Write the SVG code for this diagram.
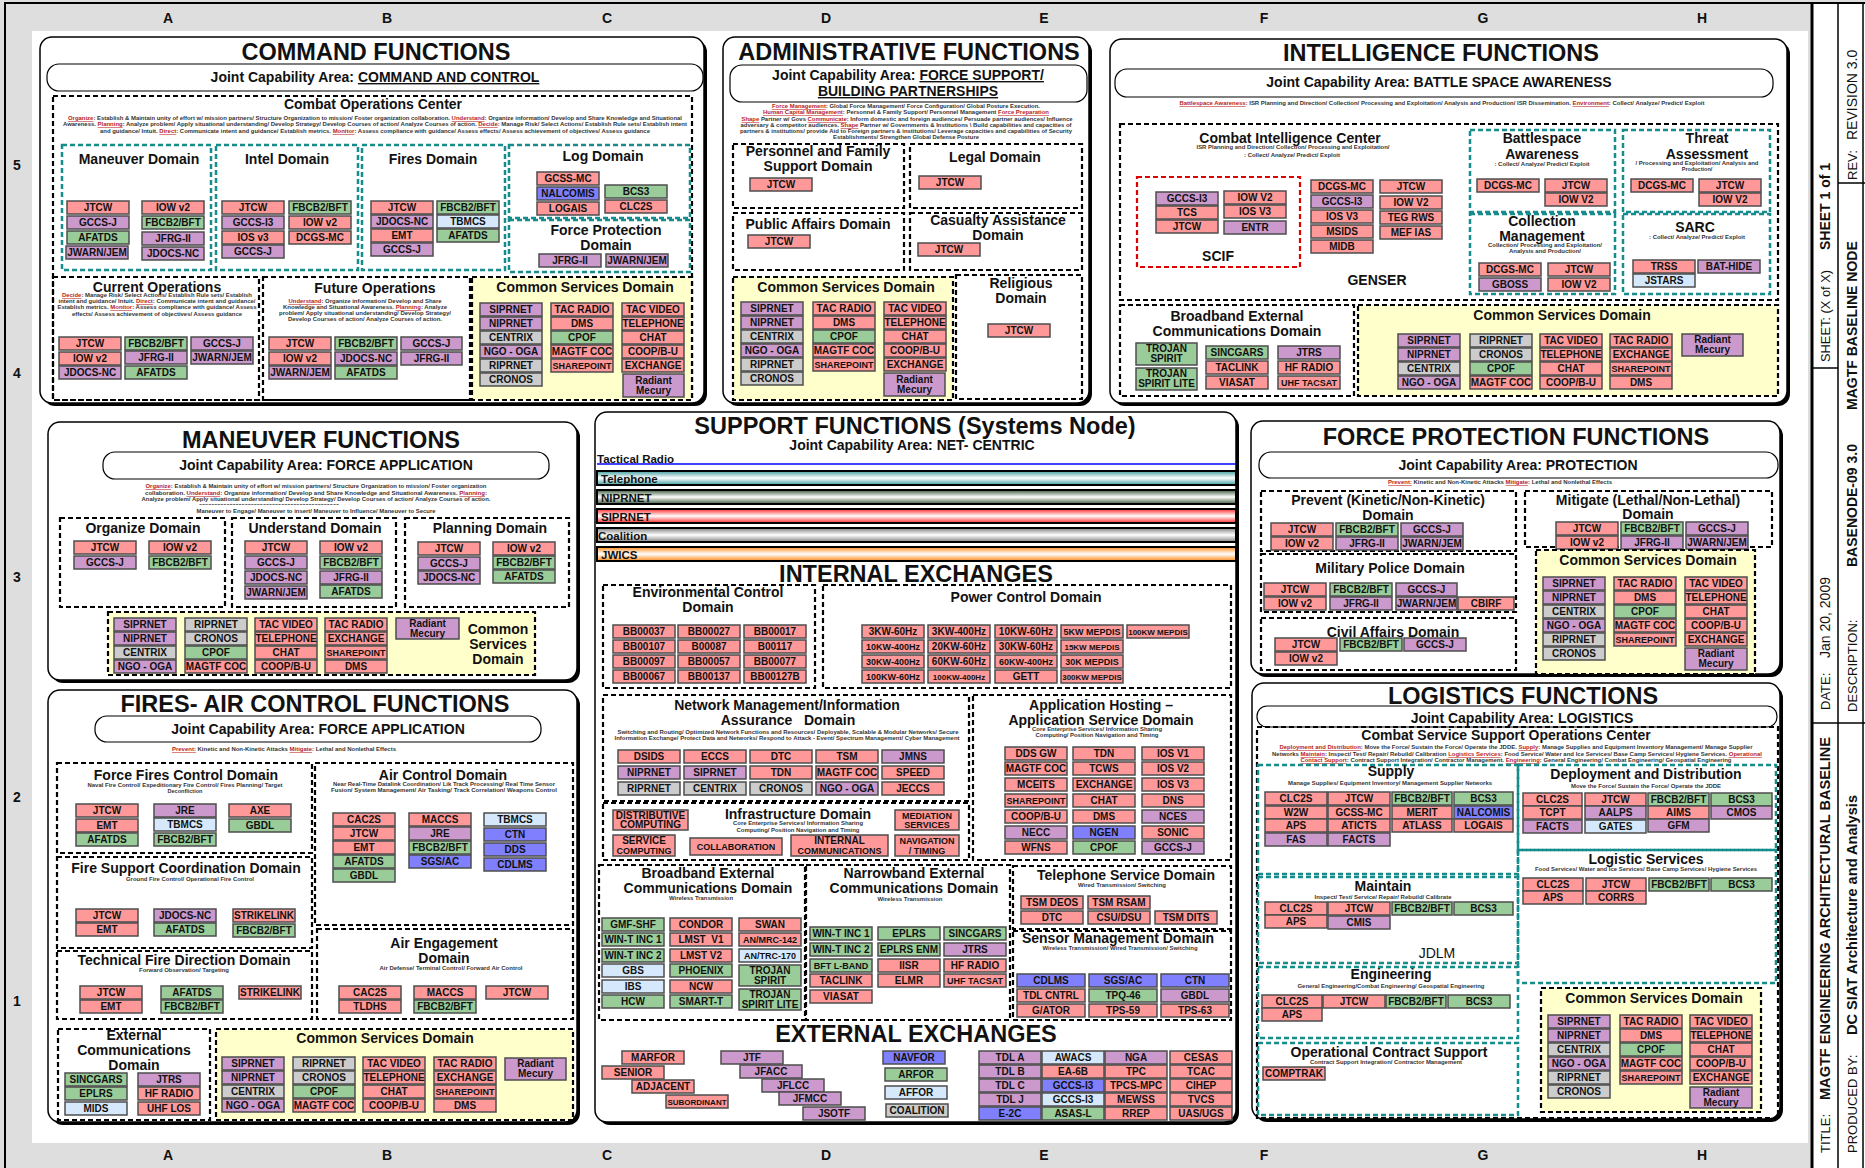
<svg xmlns="http://www.w3.org/2000/svg" width="1865" height="1168" viewBox="0 0 1865 1168">
<defs>
<style>
text{font-family:"Liberation Sans",Arial,Helvetica,sans-serif;font-weight:bold;fill:#111}
.bx rect{stroke:#4d4d4d;stroke-width:1.5}
.bx text{font-size:10px;text-anchor:middle}
.bx text.f9{font-size:9px}
.bx text.f8{font-size:8px}
.r{fill:#ff9999}.p{fill:#cc99cc}.g{fill:#99cc99}.l{fill:#d6e9fc}.k{fill:#cccccc}.n{fill:#8080ff}
.sh{fill:#000}
.fr{fill:#fff;stroke:#000;stroke-width:1.5}
.pl{fill:#fff;stroke:#000;stroke-width:1.2}
.bd{fill:none;stroke:#000;stroke-width:2.2;stroke-dasharray:5 3}
.td{fill:none;stroke:#168c8c;stroke-width:2.5;stroke-dasharray:5 3}
.yd{fill:#ffffcc;stroke:#000;stroke-width:2.2;stroke-dasharray:5 3}
.h1{font-size:23.5px;text-anchor:middle}
.h2{font-size:14px;text-anchor:middle}
.t{font-size:14px;text-anchor:middle}
.s{font-size:5.5px;text-anchor:middle;fill:#333}
.u{fill:#b81c1c;text-decoration:underline}
.ul{text-decoration:underline}
.cl{font-size:14px;text-anchor:middle}
.tb{font-size:14px}
.tn{font-size:13px;font-weight:normal}
.band{stroke:#000;stroke-width:2}
.bl{font-size:11.5px}
</style>
<linearGradient id="gT" x1="0" y1="0" x2="0" y2="1"><stop offset="0" stop-color="#3f9c9c"/><stop offset=".5" stop-color="#fff"/><stop offset="1" stop-color="#3f9c9c"/></linearGradient>
<linearGradient id="gN" x1="0" y1="0" x2="0" y2="1"><stop offset="0" stop-color="#3d5c3d"/><stop offset=".5" stop-color="#fff"/><stop offset="1" stop-color="#3d5c3d"/></linearGradient>
<linearGradient id="gS" x1="0" y1="0" x2="0" y2="1"><stop offset="0" stop-color="#ff2a2a"/><stop offset=".5" stop-color="#fff"/><stop offset="1" stop-color="#ff2a2a"/></linearGradient>
<linearGradient id="gC" x1="0" y1="0" x2="0" y2="1"><stop offset="0" stop-color="#808080"/><stop offset=".5" stop-color="#fff"/><stop offset="1" stop-color="#808080"/></linearGradient>
<linearGradient id="gJ" x1="0" y1="0" x2="0" y2="1"><stop offset="0" stop-color="#ff8a1a"/><stop offset=".5" stop-color="#fff"/><stop offset="1" stop-color="#ff8a1a"/></linearGradient>
</defs>

<g id="page">
<rect width="1865" height="1168" fill="#dedede"/>
<rect x="32" y="31" width="1776" height="1112" fill="#fff"/>
<rect x="1812" y="3" width="53" height="1165" fill="#fff"/>
<path d="M5 1168V3H1865" fill="none" stroke="#000" stroke-width="2"/>
<line x1="1812" y1="3" x2="1812" y2="1168" stroke="#000" stroke-width="3"/>
<line x1="1838" y1="3" x2="1838" y2="1168" stroke="#000" stroke-width="1.5"/>
<line x1="1863" y1="3" x2="1863" y2="1168" stroke="#000" stroke-width="1.5"/>
<line x1="1812" y1="368" x2="1838" y2="368" stroke="#000" stroke-width="1.5"/>
<line x1="1838" y1="183" x2="1865" y2="183" stroke="#000" stroke-width="1.5"/>
<line x1="1812" y1="723" x2="1865" y2="723" stroke="#000" stroke-width="1.5"/>
<text class="cl" x="168" y="23">A</text><text class="cl" x="387" y="23">B</text><text class="cl" x="607" y="23">C</text><text class="cl" x="826" y="23">D</text><text class="cl" x="1044" y="23">E</text><text class="cl" x="1264" y="23">F</text><text class="cl" x="1483" y="23">G</text><text class="cl" x="1702" y="23">H</text>
<text class="cl" x="168" y="1160">A</text><text class="cl" x="387" y="1160">B</text><text class="cl" x="607" y="1160">C</text><text class="cl" x="826" y="1160">D</text><text class="cl" x="1044" y="1160">E</text><text class="cl" x="1264" y="1160">F</text><text class="cl" x="1483" y="1160">G</text><text class="cl" x="1702" y="1160">H</text>
<text class="cl" x="17" y="170">5</text><text class="cl" x="17" y="378">4</text><text class="cl" x="17" y="582">3</text><text class="cl" x="17" y="802">2</text><text class="cl" x="17" y="1006">1</text>
</g>

<g id="title-block">
<text class="tb" transform="translate(1830,250) rotate(-90)">SHEET 1 of 1</text>
<text class="tn" transform="translate(1830,362) rotate(-90)" textLength="92" lengthAdjust="spacingAndGlyphs">SHEET: (X of X)</text>
<text class="tn" transform="translate(1830,710) rotate(-90)">DATE:</text>
<text class="tn" style="font-size:14px" transform="translate(1830,658) rotate(-90)">Jan 20, 2009</text>
<text class="tn" transform="translate(1830,1153) rotate(-90)">TITLE:</text>
<text class="tb" transform="translate(1830,1100) rotate(-90)" textLength="363" lengthAdjust="spacingAndGlyphs">MAGTF ENGINEERING ARCHITECTURAL BASELINE</text>
<text class="tn" transform="translate(1857,180) rotate(-90)">REV:</text>
<text class="tn" style="font-size:14px" transform="translate(1857,140) rotate(-90)">REVISION 3.0</text>
<text class="tb" transform="translate(1857,410) rotate(-90)">MAGTF BASELINE NODE</text>
<text class="tb" transform="translate(1857,567) rotate(-90)">BASENODE-09 3.0</text>
<text class="tn" transform="translate(1857,712) rotate(-90)">DESCRIPTION:</text>
<text class="tn" transform="translate(1857,1153) rotate(-90)">PRODUCED BY:</text>
<text class="tb" transform="translate(1857,1035) rotate(-90)" textLength="240" lengthAdjust="spacingAndGlyphs">DC SIAT Architecture and Analysis</text>
</g>

<!-- ================= COMMAND FUNCTIONS ================= -->
<g id="command-functions">
<rect class="sh" x="43" y="40" width="664" height="366" rx="12"/>
<rect class="fr" x="40" y="37" width="664" height="366" rx="12"/>
<text class="h1" x="376" y="60">COMMAND FUNCTIONS</text>
<rect class="pl" x="47" y="64" width="656" height="27" rx="12"/>
<text class="h2" x="375" y="82">Joint Capability Area: <tspan class="ul">COMMAND AND CONTROL</tspan></text>
</g>
<g id="combat-operations-center">
<rect class="bd" x="53" y="96" width="639" height="304"/>
<text class="t" x="373" y="109">Combat Operations Center</text>
<text class="s" x="375" y="120" textLength="614" lengthAdjust="spacingAndGlyphs"><tspan class="u">Organize</tspan>: Establish &amp; Maintain unity of effort w/ mission partners/ Structure Organization to mission/ Foster organization collaboration. <tspan class="u">Understand</tspan>: Organize information/ Develop and Share Knowledge and Situational</text>
<text class="s" x="375" y="126" textLength="624" lengthAdjust="spacingAndGlyphs">Awareness. <tspan class="u">Planning</tspan>: Analyze problem/ Apply situational understanding/ Develop Strategy/ Develop Courses of action/ Analyze Courses of action. <tspan class="u">Decide</tspan>: Manage Risk/ Select Actions/ Establish Rule sets/ Establish intent</text>
<text class="s" x="375" y="133" textLength="550" lengthAdjust="spacingAndGlyphs">and guidance/ Intuit. <tspan class="u">Direct</tspan>: Communicate intent and guidance/ Establish metrics. <tspan class="u">Monitor</tspan>: Assess compliance with guidance/ Assess effects/ Assess achievement of objectives/ Assess guidance</text>
</g>
<g id="cmd-maneuver-domain">
<rect class="td" x="62" y="145" width="149" height="125"/>
<text class="t" x="139" y="164">Maneuver Domain</text>
<g class="bx">
<rect class="r" x="67" y="201" width="62" height="13"/><text x="98" y="211">JTCW</text>
<rect class="p" x="67" y="216" width="62" height="13"/><text x="98" y="226">GCCS-J</text>
<rect class="g" x="67" y="231" width="62" height="13"/><text x="98" y="241">AFATDS</text>
<rect class="p" x="66" y="246" width="62" height="13"/><text x="97" y="256">JWARN/JEM</text>
<rect class="r" x="142" y="201" width="62" height="13"/><text x="173" y="211">IOW v2</text>
<rect class="g" x="142" y="216" width="62" height="13"/><text x="173" y="226">FBCB2/BFT</text>
<rect class="p" x="142" y="232" width="62" height="13"/><text x="173" y="242">JFRG-II</text>
<rect class="p" x="142" y="247" width="62" height="13"/><text x="173" y="257">JDOCS-NC</text>
</g></g>
<g id="cmd-intel-domain">
<rect class="td" x="216" y="145" width="142" height="125"/>
<text class="t" x="287" y="164">Intel Domain</text>
<g class="bx">
<rect class="r" x="222" y="201" width="62" height="13"/><text x="253" y="211">JTCW</text>
<rect class="p" x="222" y="216" width="62" height="13"/><text x="253" y="226">GCCS-I3</text>
<rect class="r" x="222" y="231" width="62" height="13"/><text x="253" y="241">IOS v3</text>
<rect class="p" x="222" y="245" width="62" height="13"/><text x="253" y="255">GCCS-J</text>
<rect class="g" x="289" y="201" width="62" height="13"/><text x="320" y="211">FBCB2/BFT</text>
<rect class="r" x="289" y="216" width="62" height="13"/><text x="320" y="226">IOW v2</text>
<rect class="r" x="289" y="231" width="62" height="13"/><text x="320" y="241">DCGS-MC</text>
</g></g>
<g id="cmd-fires-domain">
<rect class="td" x="362" y="145" width="143" height="125"/>
<text class="t" x="433" y="164">Fires Domain</text>
<g class="bx">
<rect class="r" x="371" y="201" width="62" height="13"/><text x="402" y="211">JTCW</text>
<rect class="p" x="371" y="215" width="62" height="13"/><text x="402" y="225">JDOCS-NC</text>
<rect class="r" x="371" y="229" width="62" height="13"/><text x="402" y="239">EMT</text>
<rect class="p" x="371" y="243" width="62" height="13"/><text x="402" y="253">GCCS-J</text>
<rect class="g" x="437" y="201" width="62" height="13"/><text x="468" y="211">FBCB2/BFT</text>
<rect class="l" x="437" y="215" width="62" height="13"/><text x="468" y="225">TBMCS</text>
<rect class="g" x="437" y="229" width="62" height="13"/><text x="468" y="239">AFATDS</text>
</g></g>
<g id="cmd-log-domain">
<rect class="td" x="509" y="145" width="181" height="73"/>
<text class="t" x="603" y="161">Log Domain</text>
<g class="bx">
<rect class="r" x="537" y="172" width="62" height="13"/><text x="568" y="182">GCSS-MC</text>
<rect class="n" x="537" y="187" width="62" height="13"/><text x="568" y="197">NALCOMIS</text>
<rect class="r" x="537" y="202" width="62" height="13"/><text x="568" y="212">LOGAIS</text>
<rect class="g" x="605" y="185" width="62" height="13"/><text x="636" y="195">BCS3</text>
<rect class="r" x="605" y="200" width="62" height="13"/><text x="636" y="210">CLC2S</text>
</g></g>
<g id="cmd-force-protection-domain">
<rect class="td" x="509" y="220" width="181" height="52"/>
<text class="t" x="606" y="235">Force Protection</text>
<text class="t" x="606" y="250">Domain</text>
<g class="bx">
<rect class="p" x="539" y="254" width="62" height="13"/><text x="570" y="264">JFRG-II</text>
<rect class="p" x="606" y="254" width="62" height="13"/><text x="637" y="264">JWARN/JEM</text>
</g></g>
<g id="cmd-current-operations">
<rect class="bd" x="53" y="277" width="206" height="123"/>
<text class="t" x="157" y="292">Current Operations</text>
<text class="s" x="157" y="297" textLength="190" lengthAdjust="spacingAndGlyphs"><tspan class="u">Decide</tspan>: Manage Risk/ Select Actions/ Establish Rule sets/ Establish</text>
<text class="s" x="157" y="303" textLength="197" lengthAdjust="spacingAndGlyphs">intent and guidance/ Intuit. <tspan class="u">Direct</tspan>: Communicate intent and guidance/</text>
<text class="s" x="157" y="309" textLength="199" lengthAdjust="spacingAndGlyphs">Establish metrics. <tspan class="u">Monitor</tspan>: Assess compliance with guidance/ Assess</text>
<text class="s" x="157" y="316" textLength="170" lengthAdjust="spacingAndGlyphs">effects/ Assess achievement of objectives/ Assess guidance</text>
<g class="bx">
<rect class="r" x="59" y="337" width="62" height="13"/><text x="90" y="347">JTCW</text>
<rect class="r" x="59" y="352" width="62" height="13"/><text x="90" y="362">IOW v2</text>
<rect class="p" x="59" y="366" width="62" height="13"/><text x="90" y="376">JDOCS-NC</text>
<rect class="g" x="125" y="337" width="62" height="13"/><text x="156" y="347">FBCB2/BFT</text>
<rect class="p" x="125" y="351" width="62" height="13"/><text x="156" y="361">JFRG-II</text>
<rect class="g" x="125" y="366" width="62" height="13"/><text x="156" y="376">AFATDS</text>
<rect class="p" x="191" y="337" width="62" height="13"/><text x="222" y="347">GCCS-J</text>
<rect class="p" x="191" y="351" width="62" height="13"/><text x="222" y="361">JWARN/JEM</text>
</g></g>
<g id="cmd-future-operations">
<rect class="bd" x="263" y="277" width="207" height="123"/>
<text class="t" x="375" y="293">Future Operations</text>
<text class="s" x="365" y="303" textLength="153" lengthAdjust="spacingAndGlyphs"><tspan class="u">Understand</tspan>: Organize information/ Develop and Share</text>
<text class="s" x="365" y="309" textLength="164" lengthAdjust="spacingAndGlyphs">Knowledge and Situational Awareness. <tspan class="u">Planning</tspan>: Analyze</text>
<text class="s" x="365" y="315" textLength="172" lengthAdjust="spacingAndGlyphs">problem/ Apply situational understanding/ Develop Strategy/</text>
<text class="s" x="365" y="321" textLength="154" lengthAdjust="spacingAndGlyphs">Develop Courses of action/ Analyze Courses of action.</text>
<g class="bx">
<rect class="r" x="269" y="337" width="62" height="13"/><text x="300" y="347">JTCW</text>
<rect class="r" x="269" y="352" width="62" height="13"/><text x="300" y="362">IOW v2</text>
<rect class="p" x="269" y="366" width="62" height="13"/><text x="300" y="376">JWARN/JEM</text>
<rect class="g" x="335" y="337" width="62" height="13"/><text x="366" y="347">FBCB2/BFT</text>
<rect class="p" x="335" y="352" width="62" height="13"/><text x="366" y="362">JDOCS-NC</text>
<rect class="g" x="335" y="366" width="62" height="13"/><text x="366" y="376">AFATDS</text>
<rect class="p" x="401" y="337" width="61" height="13"/><text x="431.5" y="347">GCCS-J</text>
<rect class="p" x="401" y="352" width="61" height="13"/><text x="431.5" y="362">JFRG-II</text>
</g></g>
<g id="cmd-common-services">
<rect class="yd" x="472" y="277" width="220" height="123"/>
<text class="t" x="585" y="292">Common Services Domain</text>
<g class="bx">
<rect class="p" x="480" y="303" width="62" height="13"/><text x="511" y="313">SIPRNET</text>
<rect class="p" x="480" y="317" width="62" height="13"/><text x="511" y="327">NIPRNET</text>
<rect class="k" x="480" y="331" width="62" height="13"/><text x="511" y="341">CENTRIX</text>
<rect class="p" x="480" y="345" width="62" height="13"/><text x="511" y="355">NGO - OGA</text>
<rect class="k" x="480" y="359" width="62" height="13"/><text x="511" y="369">RIPRNET</text>
<rect class="k" x="480" y="373" width="62" height="13"/><text x="511" y="383">CRONOS</text>
<rect class="r" x="551" y="303" width="62" height="13"/><text x="582" y="313">TAC RADIO</text>
<rect class="r" x="551" y="317" width="62" height="13"/><text x="582" y="327">DMS</text>
<rect class="g" x="551" y="331" width="62" height="13"/><text x="582" y="341">CPOF</text>
<rect class="r" x="551" y="345" width="62" height="13"/><text x="582" y="355">MAGTF COC</text>
<rect class="r" x="551" y="359" width="62" height="13"/><text class="f9" x="582" y="369">SHAREPOINT</text>
<rect class="r" x="622" y="303" width="62" height="13"/><text x="653" y="313">TAC VIDEO</text>
<rect class="r" x="622" y="317" width="62" height="13"/><text x="653" y="327">TELEPHONE</text>
<rect class="r" x="622" y="331" width="62" height="13"/><text x="653" y="341">CHAT</text>
<rect class="r" x="622" y="345" width="62" height="13"/><text x="653" y="355">COOP/B-U</text>
<rect class="r" x="622" y="359" width="62" height="13"/><text x="653" y="369">EXCHANGE</text>
<rect class="p" x="623" y="374" width="61" height="23"/><text x="653.5" y="384">Radiant</text><text x="653.5" y="394">Mecury</text>
</g></g>

<!-- ================= ADMINISTRATIVE ================= -->
<g id="administrative-functions">
<rect class="sh" x="726" y="40" width="366" height="366" rx="12"/>
<rect class="fr" x="723" y="37" width="366" height="366" rx="12"/>
<text class="h1" x="909" y="60">ADMINISTRATIVE FUNCTIONS</text>
<rect class="pl" x="730" y="65" width="357" height="37" rx="12"/>
<text class="h2" x="908" y="80">Joint Capability Area: <tspan class="ul">FORCE SUPPORT/</tspan></text>
<text class="h2" x="908" y="96"><tspan class="ul">BUILDING PARTNERSHIPS</tspan></text>
<text class="s" x="906" y="108" textLength="268" lengthAdjust="spacingAndGlyphs"><tspan class="u">Force Management</tspan>: Global Force Management/ Force Configuration/ Global Posture Execution.</text>
<text class="s" x="906" y="114" textLength="286" lengthAdjust="spacingAndGlyphs"><tspan class="u">Human Capital Management</tspan>: Personnel &amp; Family Support/ Personnel Management  <tspan class="u">Force Preparation</tspan></text>
<text class="s" x="907" y="121" textLength="331" lengthAdjust="spacingAndGlyphs"><tspan class="u">Shape</tspan> Partner w/ Govs <tspan class="u">Communicate</tspan>: Inform domestic and foreign audiences/ Persuade partner audiences/ Influence</text>
<text class="s" x="906" y="127" textLength="331" lengthAdjust="spacingAndGlyphs">adversary &amp; competitor audiences. <tspan class="u">Shape</tspan> Partner w/ Governments &amp; Institutions \ Build capabilities and capacities of</text>
<text class="s" x="906" y="133" textLength="332" lengthAdjust="spacingAndGlyphs">partners &amp; institutions/ provide Aid to Foreign partners &amp; institutions/ Leverage capacities and capabilities of Security</text>
<text class="s" x="906" y="139" textLength="146" lengthAdjust="spacingAndGlyphs">Establishments/ Strengthen Global Defense Posture</text>
</g>
<g id="adm-personnel-family">
<rect class="bd" x="733" y="144" width="171" height="64"/>
<text class="t" x="818" y="156">Personnel and Family</text>
<text class="t" x="818" y="171">Support Domain</text>
<g class="bx"><rect class="r" x="750" y="178" width="62" height="13"/><text x="781" y="188">JTCW</text></g>
</g>
<g id="adm-legal">
<rect class="bd" x="910" y="144" width="172" height="64"/>
<text class="t" x="995" y="162">Legal Domain</text>
<g class="bx"><rect class="r" x="919" y="176" width="62" height="13"/><text x="950" y="186">JTCW</text></g>
</g>
<g id="adm-public-affairs">
<rect class="bd" x="733" y="213" width="171" height="57"/>
<text class="t" x="818" y="229">Public Affairs Domain</text>
<g class="bx"><rect class="r" x="748" y="235" width="62" height="13"/><text x="779" y="245">JTCW</text></g>
</g>
<g id="adm-casualty">
<rect class="bd" x="910" y="213" width="172" height="57"/>
<text class="t" x="998" y="225">Casualty Assistance</text>
<text class="t" x="998" y="240">Domain</text>
<g class="bx"><rect class="r" x="918" y="243" width="62" height="13"/><text x="949" y="253">JTCW</text></g>
</g>
<g id="adm-common-services">
<rect class="yd" x="733" y="277" width="220" height="123"/>
<text class="t" x="846" y="292">Common Services Domain</text>
<g class="bx">
<rect class="p" x="741" y="302" width="62" height="13"/><text x="772" y="312">SIPRNET</text>
<rect class="p" x="741" y="316" width="62" height="13"/><text x="772" y="326">NIPRNET</text>
<rect class="k" x="741" y="330" width="62" height="13"/><text x="772" y="340">CENTRIX</text>
<rect class="p" x="741" y="344" width="62" height="13"/><text x="772" y="354">NGO - OGA</text>
<rect class="k" x="741" y="358" width="62" height="13"/><text x="772" y="368">RIPRNET</text>
<rect class="k" x="741" y="372" width="62" height="13"/><text x="772" y="382">CRONOS</text>
<rect class="r" x="813" y="302" width="62" height="13"/><text x="844" y="312">TAC RADIO</text>
<rect class="r" x="813" y="316" width="62" height="13"/><text x="844" y="326">DMS</text>
<rect class="g" x="813" y="330" width="62" height="13"/><text x="844" y="340">CPOF</text>
<rect class="r" x="813" y="344" width="62" height="13"/><text x="844" y="354">MAGTF COC</text>
<rect class="r" x="813" y="358" width="62" height="13"/><text class="f9" x="844" y="368">SHAREPOINT</text>
<rect class="r" x="884" y="302" width="62" height="13"/><text x="915" y="312">TAC VIDEO</text>
<rect class="r" x="884" y="316" width="62" height="13"/><text x="915" y="326">TELEPHONE</text>
<rect class="r" x="884" y="330" width="62" height="13"/><text x="915" y="340">CHAT</text>
<rect class="r" x="884" y="344" width="62" height="13"/><text x="915" y="354">COOP/B-U</text>
<rect class="r" x="884" y="358" width="62" height="13"/><text x="915" y="368">EXCHANGE</text>
<rect class="p" x="884" y="373" width="61" height="23"/><text x="914.5" y="383">Radiant</text><text x="914.5" y="393">Mecury</text>
</g></g>
<g id="adm-religious">
<rect class="bd" x="956" y="275" width="126" height="124"/>
<text class="t" x="1021" y="288">Religious</text>
<text class="t" x="1021" y="303">Domain</text>
<g class="bx"><rect class="r" x="988" y="324" width="62" height="13"/><text x="1019" y="334">JTCW</text></g>
</g>

<!-- ================= INTELLIGENCE ================= -->
<g id="intelligence-functions">
<rect class="sh" x="1113" y="42" width="677" height="364" rx="12"/>
<rect class="fr" x="1110" y="39" width="677" height="364" rx="12"/>
<text class="h1" x="1441" y="61">INTELLIGENCE FUNCTIONS</text>
<rect class="pl" x="1115" y="69" width="658" height="28" rx="12"/>
<text class="h2" x="1439" y="87">Joint Capability Area: BATTLE SPACE AWARENESS</text>
<text class="s" x="1442" y="105" textLength="525" lengthAdjust="spacingAndGlyphs"><tspan class="u">Battlespace Awareness</tspan>:  ISR Planning and Direction/ Collection/ Processing and Exploitation/ Analysis and Production/ ISR Dissemination. <tspan class="u">Environment</tspan>: Collect/ Analyze/ Predict/ Exploit</text>
</g>
<g id="int-combat-intelligence-center">
<rect class="bd" x="1120" y="124" width="658" height="176"/>
<text class="t" x="1290" y="143">Combat Intelligence Center</text>
<text class="s" x="1293" y="149" textLength="193" lengthAdjust="spacingAndGlyphs">ISR Planning and Direction/ Collection/ Processing and Exploitation/</text>
<text class="s" x="1292" y="157" textLength="96" lengthAdjust="spacingAndGlyphs">: Collect/ Analyze/ Predict/ Exploit</text>
<text class="t" x="1377" y="285">GENSER</text>
<g class="bx">
<rect class="r" x="1311" y="180" width="62" height="13"/><text x="1342" y="190">DCGS-MC</text>
<rect class="p" x="1311" y="195" width="62" height="13"/><text x="1342" y="205">GCCS-I3</text>
<rect class="r" x="1311" y="210" width="62" height="13"/><text x="1342" y="220">IOS V3</text>
<rect class="r" x="1311" y="225" width="62" height="13"/><text x="1342" y="235">MSIDS</text>
<rect class="r" x="1311" y="240" width="62" height="13"/><text x="1342" y="250">MIDB</text>
<rect class="r" x="1380" y="180" width="62" height="13"/><text x="1411" y="190">JTCW</text>
<rect class="r" x="1380" y="196" width="62" height="13"/><text x="1411" y="206">IOW V2</text>
<rect class="r" x="1380" y="211" width="62" height="13"/><text x="1411" y="221">TEG RWS</text>
<rect class="r" x="1380" y="226" width="62" height="13"/><text x="1411" y="236">MEF IAS</text>
</g></g>
<g id="int-scif">
<rect x="1137" y="177" width="163" height="90" fill="none" stroke="#e00000" stroke-width="2.2" stroke-dasharray="5 3"/>
<text class="t" x="1218" y="261">SCIF</text>
<g class="bx">
<rect class="p" x="1156" y="192" width="62" height="13"/><text x="1187" y="202">GCCS-I3</text>
<rect class="r" x="1156" y="206" width="62" height="13"/><text x="1187" y="216">TCS</text>
<rect class="r" x="1156" y="220" width="62" height="13"/><text x="1187" y="230">JTCW</text>
<rect class="r" x="1224" y="191" width="62" height="13"/><text x="1255" y="201">IOW V2</text>
<rect class="r" x="1224" y="205" width="62" height="13"/><text x="1255" y="215">IOS V3</text>
<rect class="p" x="1224" y="221" width="62" height="13"/><text x="1255" y="231">ENTR</text>
</g></g>
<g id="int-battlespace-awareness">
<rect class="td" x="1470" y="130" width="145" height="82"/>
<text class="t" x="1542" y="143">Battlespace</text>
<text class="t" x="1542" y="159">Awareness</text>
<text class="s" x="1542" y="166" textLength="95" lengthAdjust="spacingAndGlyphs">: Collect/ Analyze/ Predict/ Exploit</text>
<g class="bx">
<rect class="r" x="1477" y="179" width="62" height="13"/><text x="1508" y="189">DCGS-MC</text>
<rect class="r" x="1545" y="179" width="62" height="13"/><text x="1576" y="189">JTCW</text>
<rect class="r" x="1545" y="193" width="62" height="13"/><text x="1576" y="203">IOW V2</text>
</g></g>
<g id="int-threat-assessment">
<rect class="td" x="1623" y="130" width="147" height="82"/>
<text class="t" x="1707" y="143">Threat</text>
<text class="t" x="1707" y="159">Assessment</text>
<text class="s" x="1697" y="165" textLength="123" lengthAdjust="spacingAndGlyphs">/ Processing and Exploitation/ Analysis and</text>
<text class="s" x="1697" y="171">Production/</text>
<g class="bx">
<rect class="r" x="1631" y="179" width="62" height="13"/><text x="1662" y="189">DCGS-MC</text>
<rect class="r" x="1699" y="179" width="62" height="13"/><text x="1730" y="189">JTCW</text>
<rect class="r" x="1699" y="193" width="62" height="13"/><text x="1730" y="203">IOW V2</text>
</g></g>
<g id="int-collection-management">
<rect class="td" x="1470" y="214" width="145" height="80"/>
<text class="t" x="1542" y="226">Collection</text>
<text class="t" x="1542" y="241">Management</text>
<text class="s" x="1545" y="247" textLength="114" lengthAdjust="spacingAndGlyphs">Collection/ Processing and Exploitation/</text>
<text class="s" x="1545" y="253" textLength="72" lengthAdjust="spacingAndGlyphs">Analysis and Production/</text>
<g class="bx">
<rect class="r" x="1479" y="263" width="62" height="13"/><text x="1510" y="273">DCGS-MC</text>
<rect class="p" x="1479" y="278" width="62" height="13"/><text x="1510" y="288">GBOSS</text>
<rect class="r" x="1548" y="263" width="62" height="13"/><text x="1579" y="273">JTCW</text>
<rect class="r" x="1548" y="278" width="62" height="13"/><text x="1579" y="288">IOW V2</text>
</g></g>
<g id="int-sarc">
<rect class="td" x="1623" y="214" width="147" height="80"/>
<text class="t" x="1695" y="232">SARC</text>
<text class="s" x="1697" y="239" textLength="96" lengthAdjust="spacingAndGlyphs">: Collect/ Analyze/ Predict/ Exploit</text>
<g class="bx">
<rect class="r" x="1633" y="260" width="62" height="13"/><text x="1664" y="270">TRSS</text>
<rect class="l" x="1633" y="274" width="62" height="13"/><text x="1664" y="284">JSTARS</text>
<rect class="p" x="1698" y="260" width="62" height="13"/><text x="1729" y="270">BAT-HIDE</text>
</g></g>
<g id="int-broadband-external">
<rect class="bd" x="1120" y="305" width="234" height="91"/>
<text class="t" x="1237" y="321">Broadband External</text>
<text class="t" x="1237" y="336">Communications Domain</text>
<g class="bx">
<rect class="g" x="1136" y="343" width="61" height="22"/><text x="1166.5" y="352">TROJAN</text><text x="1166.5" y="362">SPIRIT</text>
<rect class="g" x="1136" y="368" width="61" height="22"/><text x="1166.5" y="377">TROJAN</text><text x="1166.5" y="387">SPIRIT LITE</text>
<rect class="g" x="1206" y="346" width="62" height="13"/><text x="1237" y="356">SINCGARS</text>
<rect class="r" x="1206" y="361" width="62" height="13"/><text x="1237" y="371">TACLINK</text>
<rect class="r" x="1206" y="376" width="62" height="13"/><text x="1237" y="386">VIASAT</text>
<rect class="p" x="1278" y="346" width="62" height="13"/><text x="1309" y="356">JTRS</text>
<rect class="r" x="1278" y="361" width="62" height="13"/><text x="1309" y="371">HF RADIO</text>
<rect class="r" x="1278" y="376" width="62" height="13"/><text class="f9" x="1309" y="386">UHF TACSAT</text>
</g></g>
<g id="int-common-services">
<rect class="yd" x="1358" y="305" width="420" height="91"/>
<text class="t" x="1562" y="320">Common Services Domain</text>
<g class="bx">
<rect class="p" x="1398" y="334" width="62" height="13"/><text x="1429" y="344">SIPRNET</text>
<rect class="p" x="1398" y="348" width="62" height="13"/><text x="1429" y="358">NIPRNET</text>
<rect class="k" x="1398" y="362" width="62" height="13"/><text x="1429" y="372">CENTRIX</text>
<rect class="p" x="1398" y="376" width="62" height="13"/><text x="1429" y="386">NGO - OGA</text>
<rect class="k" x="1470" y="334" width="62" height="13"/><text x="1501" y="344">RIPRNET</text>
<rect class="k" x="1470" y="348" width="62" height="13"/><text x="1501" y="358">CRONOS</text>
<rect class="g" x="1470" y="362" width="62" height="13"/><text x="1501" y="372">CPOF</text>
<rect class="r" x="1470" y="376" width="62" height="13"/><text x="1501" y="386">MAGTF COC</text>
<rect class="r" x="1540" y="334" width="62" height="13"/><text x="1571" y="344">TAC VIDEO</text>
<rect class="r" x="1540" y="348" width="62" height="13"/><text x="1571" y="358">TELEPHONE</text>
<rect class="r" x="1540" y="362" width="62" height="13"/><text x="1571" y="372">CHAT</text>
<rect class="r" x="1540" y="376" width="62" height="13"/><text x="1571" y="386">COOP/B-U</text>
<rect class="r" x="1610" y="334" width="62" height="13"/><text x="1641" y="344">TAC RADIO</text>
<rect class="r" x="1610" y="348" width="62" height="13"/><text x="1641" y="358">EXCHANGE</text>
<rect class="r" x="1610" y="362" width="62" height="13"/><text class="f9" x="1641" y="372">SHAREPOINT</text>
<rect class="r" x="1610" y="376" width="62" height="13"/><text x="1641" y="386">DMS</text>
<rect class="p" x="1682" y="334" width="61" height="22"/><text x="1712.5" y="343">Radiant</text><text x="1712.5" y="353">Mecury</text>
</g></g>

<!-- ================= MANEUVER ================= -->
<g id="maneuver-functions">
<rect class="sh" x="51" y="425" width="529" height="258" rx="12"/>
<rect class="fr" x="48" y="422" width="529" height="258" rx="12"/>
<text class="h1" x="321" y="448">MANEUVER FUNCTIONS</text>
<rect class="pl" x="103" y="452" width="446" height="27" rx="12"/>
<text class="h2" x="326" y="470">Joint Capability Area: FORCE APPLICATION</text>
<text class="s" x="316" y="488" textLength="341" lengthAdjust="spacingAndGlyphs"><tspan class="u">Organize</tspan>: Establish &amp; Maintain unity of effort w/ mission partners/ Structure Organization to mission/ Foster organization</text>
<text class="s" x="316" y="495" textLength="342" lengthAdjust="spacingAndGlyphs">collaboration. <tspan class="u">Understand</tspan>: Organize information/ Develop and Share Knowledge and Situational Awareness. <tspan class="u">Planning</tspan>:</text>
<text class="s" x="316" y="501" textLength="349" lengthAdjust="spacingAndGlyphs">Analyze problem/ Apply situational understanding/ Develop Strategy/ Develop Courses of action/ Analyze Courses of action.</text>
<text class="s" x="269" y="506" textLength="140" lengthAdjust="spacingAndGlyphs">----------------------------------------------</text>
<text class="s" x="316" y="513" textLength="239" lengthAdjust="spacingAndGlyphs">Maneuver to Engage/ Maneuver to insert/ Maneuver to Influence/ Maneuver to Secure</text>
</g>
<g id="man-organize-domain">
<rect class="bd" x="60" y="518" width="165" height="89"/>
<text class="t" x="143" y="533">Organize Domain</text>
<g class="bx">
<rect class="r" x="74" y="541" width="62" height="13"/><text x="105" y="551">JTCW</text>
<rect class="p" x="74" y="556" width="62" height="13"/><text x="105" y="566">GCCS-J</text>
<rect class="r" x="149" y="541" width="62" height="13"/><text x="180" y="551">IOW v2</text>
<rect class="g" x="149" y="556" width="62" height="13"/><text x="180" y="566">FBCB2/BFT</text>
</g></g>
<g id="man-understand-domain">
<rect class="bd" x="232" y="518" width="164" height="89"/>
<text class="t" x="315" y="533">Understand Domain</text>
<g class="bx">
<rect class="r" x="245" y="541" width="62" height="13"/><text x="276" y="551">JTCW</text>
<rect class="p" x="245" y="556" width="62" height="13"/><text x="276" y="566">GCCS-J</text>
<rect class="p" x="245" y="571" width="62" height="13"/><text x="276" y="581">JDOCS-NC</text>
<rect class="p" x="245" y="586" width="62" height="13"/><text x="276" y="596">JWARN/JEM</text>
<rect class="r" x="320" y="541" width="62" height="13"/><text x="351" y="551">IOW v2</text>
<rect class="g" x="320" y="556" width="62" height="13"/><text x="351" y="566">FBCB2/BFT</text>
<rect class="p" x="320" y="571" width="62" height="13"/><text x="351" y="581">JFRG-II</text>
<rect class="g" x="320" y="585" width="62" height="13"/><text x="351" y="595">AFATDS</text>
</g></g>
<g id="man-planning-domain">
<rect class="bd" x="405" y="518" width="164" height="89"/>
<text class="t" x="490" y="533">Planning Domain</text>
<g class="bx">
<rect class="r" x="418" y="542" width="62" height="13"/><text x="449" y="552">JTCW</text>
<rect class="p" x="418" y="557" width="62" height="13"/><text x="449" y="567">GCCS-J</text>
<rect class="p" x="418" y="571" width="62" height="13"/><text x="449" y="581">JDOCS-NC</text>
<rect class="r" x="493" y="542" width="62" height="13"/><text x="524" y="552">IOW v2</text>
<rect class="g" x="493" y="556" width="62" height="13"/><text x="524" y="566">FBCB2/BFT</text>
<rect class="g" x="493" y="570" width="62" height="13"/><text x="524" y="580">AFATDS</text>
</g></g>
<g id="man-common-services">
<rect class="yd" x="108" y="612" width="427" height="63"/>
<text class="t" x="498" y="634">Common</text>
<text class="t" x="498" y="649">Services</text>
<text class="t" x="498" y="664">Domain</text>
<g class="bx">
<rect class="p" x="114" y="618" width="62" height="13"/><text x="145" y="628">SIPRNET</text>
<rect class="p" x="114" y="632" width="62" height="13"/><text x="145" y="642">NIPRNET</text>
<rect class="k" x="114" y="646" width="62" height="13"/><text x="145" y="656">CENTRIX</text>
<rect class="p" x="114" y="660" width="62" height="13"/><text x="145" y="670">NGO - OGA</text>
<rect class="k" x="185" y="618" width="62" height="13"/><text x="216" y="628">RIPRNET</text>
<rect class="k" x="185" y="632" width="62" height="13"/><text x="216" y="642">CRONOS</text>
<rect class="g" x="185" y="646" width="62" height="13"/><text x="216" y="656">CPOF</text>
<rect class="r" x="185" y="660" width="62" height="13"/><text x="216" y="670">MAGTF COC</text>
<rect class="r" x="255" y="618" width="62" height="13"/><text x="286" y="628">TAC VIDEO</text>
<rect class="r" x="255" y="632" width="62" height="13"/><text x="286" y="642">TELEPHONE</text>
<rect class="r" x="255" y="646" width="62" height="13"/><text x="286" y="656">CHAT</text>
<rect class="r" x="255" y="660" width="62" height="13"/><text x="286" y="670">COOP/B-U</text>
<rect class="r" x="325" y="618" width="62" height="13"/><text x="356" y="628">TAC RADIO</text>
<rect class="r" x="325" y="632" width="62" height="13"/><text x="356" y="642">EXCHANGE</text>
<rect class="r" x="325" y="646" width="62" height="13"/><text class="f9" x="356" y="656">SHAREPOINT</text>
<rect class="r" x="325" y="660" width="62" height="13"/><text x="356" y="670">DMS</text>
<rect class="p" x="396" y="618" width="63" height="21"/><text x="427.5" y="627">Radiant</text><text x="427.5" y="637">Mecury</text>
</g></g>

<!-- ================= FIRES ================= -->
<g id="fires-air-control-functions">
<rect class="sh" x="51" y="693" width="529" height="432" rx="12"/>
<rect class="fr" x="48" y="690" width="529" height="432" rx="12"/>
<text class="h1" x="315" y="712">FIRES- AIR CONTROL FUNCTIONS</text>
<rect class="pl" x="95" y="716" width="446" height="26" rx="12"/>
<text class="h2" x="318" y="734">Joint Capability Area: FORCE APPLICATION</text>
<text class="s" x="284" y="751" textLength="224" lengthAdjust="spacingAndGlyphs"><tspan class="u">Prevent:</tspan> Kinetic and Non-Kinetic Attacks  <tspan class="u">Mitigate</tspan>: Lethal and Nonlethal Effects</text>
</g>
<g id="fir-force-fires-control">
<rect class="bd" x="57" y="763" width="255" height="90"/>
<text class="t" x="186" y="780">Force Fires Control Domain</text>
<text class="s" x="185" y="787" textLength="195" lengthAdjust="spacingAndGlyphs">Naval Fire Control/ Expeditionary Fire Control/ Fires Planning/ Target</text>
<text class="s" x="185" y="793">Deconfliction</text>
<g class="bx">
<rect class="r" x="76" y="804" width="62" height="13"/><text x="107" y="814">JTCW</text>
<rect class="r" x="76" y="819" width="62" height="13"/><text x="107" y="829">EMT</text>
<rect class="g" x="76" y="833" width="62" height="13"/><text x="107" y="843">AFATDS</text>
<rect class="p" x="154" y="804" width="62" height="13"/><text x="185" y="814">JRE</text>
<rect class="l" x="154" y="818" width="62" height="13"/><text x="185" y="828">TBMCS</text>
<rect class="g" x="154" y="833" width="62" height="13"/><text x="185" y="843">FBCB2/BFT</text>
<rect class="r" x="229" y="804" width="62" height="13"/><text x="260" y="814">AXE</text>
<rect class="g" x="229" y="819" width="62" height="13"/><text x="260" y="829">GBDL</text>
</g></g>
<g id="fir-fire-support-coordination">
<rect class="bd" x="57" y="857" width="255" height="91"/>
<text class="t" x="186" y="873">Fire Support Coordination Domain</text>
<text class="s" x="190" y="881" textLength="128" lengthAdjust="spacingAndGlyphs">Ground Fire Control/ Operational Fire Control</text>
<g class="bx">
<rect class="r" x="76" y="909" width="62" height="13"/><text x="107" y="919">JTCW</text>
<rect class="r" x="76" y="923" width="62" height="13"/><text x="107" y="933">EMT</text>
<rect class="p" x="154" y="909" width="62" height="13"/><text x="185" y="919">JDOCS-NC</text>
<rect class="g" x="154" y="923" width="62" height="13"/><text x="185" y="933">AFATDS</text>
<rect class="r" x="233" y="909" width="62" height="13"/><text x="264" y="919">STRIKELINK</text>
<rect class="g" x="233" y="924" width="62" height="13"/><text x="264" y="934">FBCB2/BFT</text>
</g></g>
<g id="fir-technical-fire-direction">
<rect class="bd" x="57" y="951" width="255" height="68"/>
<text class="t" x="184" y="965">Technical Fire Direction Domain</text>
<text class="s" x="184" y="972" textLength="90" lengthAdjust="spacingAndGlyphs">Forward Observation/ Targeting</text>
<g class="bx">
<rect class="r" x="80" y="986" width="62" height="13"/><text x="111" y="996">JTCW</text>
<rect class="r" x="80" y="1000" width="62" height="13"/><text x="111" y="1010">EMT</text>
<rect class="g" x="161" y="986" width="62" height="13"/><text x="192" y="996">AFATDS</text>
<rect class="g" x="161" y="1000" width="62" height="13"/><text x="192" y="1010">FBCB2/BFT</text>
<rect class="r" x="239" y="986" width="62" height="13"/><text x="270" y="996">STRIKELINK</text>
</g></g>
<g id="fir-air-control">
<rect class="bd" x="315" y="763" width="258" height="162"/>
<text class="t" x="443" y="780">Air Control Domain</text>
<text class="s" x="444" y="786" textLength="222" lengthAdjust="spacingAndGlyphs">Near Real-Time Datalink Coordination/ Lik Track Processing/ Real Time Sensor</text>
<text class="s" x="444" y="792" textLength="226" lengthAdjust="spacingAndGlyphs">Fusion/ System Management/  Air Tasking/  Track Correlation/ Weapons Control</text>
<g class="bx">
<rect class="r" x="333" y="813" width="62" height="13"/><text x="364" y="823">CAC2S</text>
<rect class="r" x="333" y="827" width="62" height="13"/><text x="364" y="837">JTCW</text>
<rect class="r" x="333" y="841" width="62" height="13"/><text x="364" y="851">EMT</text>
<rect class="g" x="333" y="855" width="62" height="13"/><text x="364" y="865">AFATDS</text>
<rect class="g" x="333" y="869" width="62" height="13"/><text x="364" y="879">GBDL</text>
<rect class="r" x="409" y="813" width="62" height="13"/><text x="440" y="823">MACCS</text>
<rect class="p" x="409" y="827" width="62" height="13"/><text x="440" y="837">JRE</text>
<rect class="g" x="409" y="841" width="62" height="13"/><text x="440" y="851">FBCB2/BFT</text>
<rect class="n" x="409" y="855" width="62" height="13"/><text x="440" y="865">SGS/AC</text>
<rect class="l" x="484" y="813" width="62" height="13"/><text x="515" y="823">TBMCS</text>
<rect class="n" x="484" y="828" width="62" height="13"/><text x="515" y="838">CTN</text>
<rect class="n" x="484" y="843" width="62" height="13"/><text x="515" y="853">DDS</text>
<rect class="n" x="484" y="858" width="62" height="13"/><text x="515" y="868">CDLMS</text>
</g></g>
<g id="fir-air-engagement">
<rect class="bd" x="317" y="929" width="256" height="90"/>
<text class="t" x="444" y="948">Air Engagement</text>
<text class="t" x="444" y="963">Domain</text>
<text class="s" x="451" y="970" textLength="143" lengthAdjust="spacingAndGlyphs">Air Defense/ Terminal Control/ Forward Air Control</text>
<g class="bx">
<rect class="r" x="339" y="986" width="62" height="13"/><text x="370" y="996">CAC2S</text>
<rect class="r" x="339" y="1000" width="62" height="13"/><text x="370" y="1010">TLDHS</text>
<rect class="r" x="414" y="986" width="62" height="13"/><text x="445" y="996">MACCS</text>
<rect class="g" x="414" y="1000" width="62" height="13"/><text x="445" y="1010">FBCB2/BFT</text>
<rect class="r" x="486" y="986" width="62" height="13"/><text x="517" y="996">JTCW</text>
</g></g>
<g id="fir-external-communications">
<rect class="bd" x="58" y="1029" width="152" height="91"/>
<text class="t" x="134" y="1040">External</text>
<text class="t" x="134" y="1055">Communications</text>
<text class="t" x="134" y="1070">Domain</text>
<g class="bx">
<rect class="g" x="65" y="1073" width="62" height="13"/><text x="96" y="1083">SINCGARS</text>
<rect class="g" x="65" y="1087" width="62" height="13"/><text x="96" y="1097">EPLRS</text>
<rect class="l" x="65" y="1102" width="62" height="13"/><text x="96" y="1112">MIDS</text>
<rect class="p" x="138" y="1073" width="62" height="13"/><text x="169" y="1083">JTRS</text>
<rect class="r" x="138" y="1087" width="62" height="13"/><text x="169" y="1097">HF RADIO</text>
<rect class="r" x="138" y="1102" width="62" height="13"/><text x="169" y="1112">UHF LOS</text>
</g></g>
<g id="fir-common-services">
<rect class="yd" x="216" y="1029" width="357" height="91"/>
<text class="t" x="385" y="1043">Common Services Domain</text>
<g class="bx">
<rect class="p" x="222" y="1057" width="62" height="13"/><text x="253" y="1067">SIPRNET</text>
<rect class="p" x="222" y="1071" width="62" height="13"/><text x="253" y="1081">NIPRNET</text>
<rect class="k" x="222" y="1085" width="62" height="13"/><text x="253" y="1095">CENTRIX</text>
<rect class="p" x="222" y="1099" width="62" height="13"/><text x="253" y="1109">NGO - OGA</text>
<rect class="k" x="293" y="1057" width="62" height="13"/><text x="324" y="1067">RIPRNET</text>
<rect class="k" x="293" y="1071" width="62" height="13"/><text x="324" y="1081">CRONOS</text>
<rect class="g" x="293" y="1085" width="62" height="13"/><text x="324" y="1095">CPOF</text>
<rect class="r" x="293" y="1099" width="62" height="13"/><text x="324" y="1109">MAGTF COC</text>
<rect class="r" x="363" y="1057" width="62" height="13"/><text x="394" y="1067">TAC VIDEO</text>
<rect class="r" x="363" y="1071" width="62" height="13"/><text x="394" y="1081">TELEPHONE</text>
<rect class="r" x="363" y="1085" width="62" height="13"/><text x="394" y="1095">CHAT</text>
<rect class="r" x="363" y="1099" width="62" height="13"/><text x="394" y="1109">COOP/B-U</text>
<rect class="r" x="434" y="1057" width="62" height="13"/><text x="465" y="1067">TAC RADIO</text>
<rect class="r" x="434" y="1071" width="62" height="13"/><text x="465" y="1081">EXCHANGE</text>
<rect class="r" x="434" y="1085" width="62" height="13"/><text class="f9" x="465" y="1095">SHAREPOINT</text>
<rect class="r" x="434" y="1099" width="62" height="13"/><text x="465" y="1109">DMS</text>
<rect class="p" x="505" y="1058" width="61" height="22"/><text x="535.5" y="1067">Radiant</text><text x="535.5" y="1077">Mecury</text>
</g></g>

<!-- ================= SUPPORT ================= -->
<g id="support-functions">
<rect class="sh" x="598" y="415" width="641" height="710" rx="12"/>
<rect class="fr" x="595" y="412" width="641" height="710" rx="12"/>
<text class="h1" x="915" y="434">SUPPORT FUNCTIONS (Systems Node)</text>
<text class="h2" x="912" y="450">Joint Capability Area: NET- CENTRIC</text>
<text class="bl" x="597" y="463">Tactical Radio</text>
<line x1="597" y1="464" x2="1236" y2="464" stroke="#0000ff" stroke-width="1.5"/>
<rect class="band" x="597" y="471" width="639" height="14" fill="url(#gT)"/><text class="bl" x="601" y="483">Telephone</text>
<rect class="band" x="597" y="490" width="639" height="14" fill="url(#gN)"/><text class="bl" x="601" y="502">NIPRNET</text>
<rect class="band" x="597" y="509" width="639" height="14" fill="url(#gS)"/><text class="bl" x="601" y="521">SIPRNET</text>
<rect class="band" x="597" y="528" width="639" height="14" fill="url(#gC)"/><text class="bl" x="598" y="540">Coalition</text>
<rect class="band" x="597" y="547" width="639" height="14" fill="url(#gJ)"/><text class="bl" x="601" y="559">JWICS</text>
<text class="h1" x="916" y="582">INTERNAL EXCHANGES</text>
<text class="h1" x="916" y="1042">EXTERNAL EXCHANGES</text>
</g>
<g id="sup-environmental-control">
<rect class="bd" x="603" y="585" width="212" height="103"/>
<text class="t" x="708" y="597">Environmental Control</text>
<text class="t" x="708" y="612">Domain</text>
<g class="bx">
<rect class="r" x="613" y="625" width="62" height="13"/><text x="644" y="635">BB00037</text>
<rect class="r" x="613" y="640" width="62" height="13"/><text x="644" y="650">BB00107</text>
<rect class="r" x="613" y="655" width="62" height="13"/><text x="644" y="665">BB00097</text>
<rect class="r" x="613" y="670" width="62" height="13"/><text x="644" y="680">BB00067</text>
<rect class="r" x="678" y="625" width="62" height="13"/><text x="709" y="635">BB00027</text>
<rect class="r" x="678" y="640" width="62" height="13"/><text x="709" y="650">B00087</text>
<rect class="r" x="678" y="655" width="62" height="13"/><text x="709" y="665">BB00057</text>
<rect class="r" x="678" y="670" width="62" height="13"/><text x="709" y="680">BB00137</text>
<rect class="r" x="744" y="625" width="62" height="13"/><text x="775" y="635">BB00017</text>
<rect class="r" x="744" y="640" width="62" height="13"/><text x="775" y="650">B00117</text>
<rect class="r" x="744" y="655" width="62" height="13"/><text x="775" y="665">BB00077</text>
<rect class="r" x="744" y="670" width="62" height="13"/><text x="775" y="680">BB00127B</text>
</g></g>
<g id="sup-power-control">
<rect class="bd" x="823" y="585" width="408" height="103"/>
<text class="t" x="1026" y="602">Power Control Domain</text>
<g class="bx">
<rect class="r" x="862" y="625" width="62" height="13"/><text x="893" y="635">3KW-60Hz</text>
<rect class="r" x="862" y="640" width="62" height="13"/><text class="f9" x="893" y="650">10KW-400Hz</text>
<rect class="r" x="862" y="655" width="62" height="13"/><text class="f9" x="893" y="665">30KW-400Hz</text>
<rect class="r" x="862" y="670" width="62" height="13"/><text class="f9" x="893" y="680">100KW-60Hz</text>
<rect class="r" x="928" y="625" width="62" height="13"/><text x="959" y="635">3KW-400Hz</text>
<rect class="r" x="928" y="640" width="62" height="13"/><text x="959" y="650">20KW-60Hz</text>
<rect class="r" x="928" y="655" width="62" height="13"/><text x="959" y="665">60KW-60Hz</text>
<rect class="r" x="928" y="670" width="62" height="13"/><text class="f8" x="959" y="680">100KW-400Hz</text>
<rect class="r" x="995" y="625" width="62" height="13"/><text x="1026" y="635">10KW-60Hz</text>
<rect class="r" x="995" y="640" width="62" height="13"/><text x="1026" y="650">30KW-60Hz</text>
<rect class="r" x="995" y="655" width="62" height="13"/><text class="f9" x="1026" y="665">60KW-400Hz</text>
<rect class="r" x="995" y="670" width="62" height="13"/><text x="1026" y="680">GETT</text>
<rect class="r" x="1061" y="625" width="62" height="13"/><text class="f9" x="1092" y="635">5KW MEPDIS</text>
<rect class="r" x="1061" y="640" width="62" height="13"/><text class="f8" x="1092" y="650">15KW MEPDIS</text>
<rect class="r" x="1061" y="655" width="62" height="13"/><text class="f9" x="1092" y="665">30K MEPDIS</text>
<rect class="r" x="1061" y="670" width="62" height="13"/><text class="f8" x="1092" y="680">300KW MEPDIS</text>
<rect class="r" x="1127" y="625" width="62" height="13"/><text class="f8" x="1158" y="635">100KW MEPDIS</text>
</g></g>
<g id="sup-network-management">
<rect class="bd" x="603" y="695" width="366" height="106"/>
<text class="t" x="787" y="710">Network Management/Information</text>
<text class="t" x="788" y="725" xml:space="preserve">Assurance   Domain</text>
<text class="s" x="788" y="734" textLength="341" lengthAdjust="spacingAndGlyphs">Switching and Routing/ Optimized Network Functions and Resources/ Deployable, Scalable &amp; Modular Networks/ Secure</text>
<text class="s" x="787" y="740" textLength="345" lengthAdjust="spacingAndGlyphs">Information Exchange/ Protect Data and Networks/ Respond to Attack - Event/ Spectrum Management/ Cyber Management</text>
<g class="bx">
<rect class="r" x="618" y="750" width="62" height="13"/><text x="649" y="760">DSIDS</text>
<rect class="r" x="684" y="750" width="62" height="13"/><text x="715" y="760">ECCS</text>
<rect class="r" x="750" y="750" width="62" height="13"/><text x="781" y="760">DTC</text>
<rect class="r" x="816" y="750" width="62" height="13"/><text x="847" y="760">TSM</text>
<rect class="p" x="882" y="750" width="62" height="13"/><text x="913" y="760">JMNS</text>
<rect class="p" x="618" y="766" width="62" height="13"/><text x="649" y="776">NIPRNET</text>
<rect class="p" x="684" y="766" width="62" height="13"/><text x="715" y="776">SIPRNET</text>
<rect class="r" x="750" y="766" width="62" height="13"/><text x="781" y="776">TDN</text>
<rect class="r" x="816" y="766" width="62" height="13"/><text x="847" y="776">MAGTF COC</text>
<rect class="r" x="882" y="766" width="62" height="13"/><text x="913" y="776">SPEED</text>
<rect class="k" x="618" y="782" width="62" height="13"/><text x="649" y="792">RIPRNET</text>
<rect class="k" x="684" y="782" width="62" height="13"/><text x="715" y="792">CENTRIX</text>
<rect class="k" x="750" y="782" width="62" height="13"/><text x="781" y="792">CRONOS</text>
<rect class="p" x="816" y="782" width="62" height="13"/><text x="847" y="792">NGO - OGA</text>
<rect class="r" x="882" y="782" width="62" height="13"/><text x="913" y="792">JECCS</text>
</g></g>
<g id="sup-infrastructure">
<rect class="bd" x="603" y="803" width="366" height="57"/>
<text class="t" x="798" y="819">Infrastructure Domain</text>
<text class="s" x="798" y="825" textLength="130" lengthAdjust="spacingAndGlyphs">Core Enterprise Services/ Information Sharing</text>
<text class="s" x="798" y="832" textLength="123" lengthAdjust="spacingAndGlyphs">Computing/ Position Navigation and Timing</text>
<g class="bx">
<rect class="r" x="613" y="810" width="75" height="20"/><text x="650.5" y="818.5">DISTRIBUTIVE</text><text x="650.5" y="828">COMPUTING</text>
<rect class="r" x="613" y="835" width="62" height="21"/><text x="644" y="844">SERVICE</text><text class="f9" x="644" y="854">COMPUTING</text>
<rect class="r" x="690" y="838" width="92" height="17"/><text class="f9" x="736" y="850">COLLABORATION</text>
<rect class="r" x="791" y="835" width="97" height="21"/><text x="839.5" y="844">INTERNAL</text><text class="f9" x="839.5" y="854">COMMUNICATIONS</text>
<rect class="r" x="895" y="810" width="64" height="20"/><text class="f9" x="927" y="818.5">MEDIATION</text><text class="f9" x="927" y="828">SERVICES</text>
<rect class="r" x="895" y="835" width="64" height="21"/><text class="f9" x="927" y="844">NAVIGATION</text><text class="f9" x="927" y="854">/ TIMING</text>
</g></g>
<g id="sup-application-hosting">
<rect class="bd" x="973" y="695" width="258" height="165"/>
<text class="t" x="1101" y="710">Application Hosting –</text>
<text class="t" x="1101" y="725">Application Service Domain</text>
<text class="s" x="1097" y="731" textLength="130" lengthAdjust="spacingAndGlyphs">Core Enterprise Services/ Information Sharing</text>
<text class="s" x="1097" y="737" textLength="123" lengthAdjust="spacingAndGlyphs">Computing/ Position Navigation and Timing</text>
<g class="bx">
<rect class="r" x="1005" y="747" width="62" height="13"/><text x="1036" y="757">DDS GW</text>
<rect class="r" x="1005" y="762" width="62" height="13"/><text x="1036" y="772">MAGTF COC</text>
<rect class="r" x="1005" y="778" width="62" height="13"/><text x="1036" y="788">MCEITS</text>
<rect class="r" x="1005" y="794" width="62" height="13"/><text class="f9" x="1036" y="804">SHAREPOINT</text>
<rect class="r" x="1005" y="810" width="62" height="13"/><text x="1036" y="820">COOP/B-U</text>
<rect class="p" x="1005" y="826" width="62" height="13"/><text x="1036" y="836">NECC</text>
<rect class="r" x="1005" y="841" width="62" height="13"/><text x="1036" y="851">WFNS</text>
<rect class="r" x="1073" y="747" width="62" height="13"/><text x="1104" y="757">TDN</text>
<rect class="r" x="1073" y="762" width="62" height="13"/><text x="1104" y="772">TCWS</text>
<rect class="r" x="1073" y="778" width="62" height="13"/><text x="1104" y="788">EXCHANGE</text>
<rect class="r" x="1073" y="794" width="62" height="13"/><text x="1104" y="804">CHAT</text>
<rect class="r" x="1073" y="810" width="62" height="13"/><text x="1104" y="820">DMS</text>
<rect class="n" x="1073" y="826" width="62" height="13"/><text x="1104" y="836">NGEN</text>
<rect class="g" x="1073" y="841" width="62" height="13"/><text x="1104" y="851">CPOF</text>
<rect class="r" x="1142" y="747" width="62" height="13"/><text x="1173" y="757">IOS V1</text>
<rect class="r" x="1142" y="762" width="62" height="13"/><text x="1173" y="772">IOS V2</text>
<rect class="r" x="1142" y="778" width="62" height="13"/><text x="1173" y="788">IOS V3</text>
<rect class="r" x="1142" y="794" width="62" height="13"/><text x="1173" y="804">DNS</text>
<rect class="p" x="1142" y="810" width="62" height="13"/><text x="1173" y="820">NCES</text>
<rect class="r" x="1142" y="826" width="62" height="13"/><text x="1173" y="836">SONIC</text>
<rect class="p" x="1142" y="841" width="62" height="13"/><text x="1173" y="851">GCCS-J</text>
</g></g>
<g id="sup-broadband-external">
<rect class="bd" x="599" y="865" width="206" height="155"/>
<text class="t" x="708" y="878">Broadband External</text>
<text class="t" x="708" y="893">Communications Domain</text>
<text class="s" x="701" y="900" textLength="64" lengthAdjust="spacingAndGlyphs">Wireless Transmission</text>
<g class="bx">
<rect class="g" x="602" y="918" width="62" height="13"/><text x="633" y="928">GMF-SHF</text>
<rect class="g" x="602" y="933" width="62" height="13"/><text x="633" y="943">WIN-T INC 1</text>
<rect class="g" x="602" y="949" width="62" height="13"/><text x="633" y="959">WIN-T INC 2</text>
<rect class="l" x="602" y="964" width="62" height="13"/><text x="633" y="974">GBS</text>
<rect class="l" x="602" y="980" width="62" height="13"/><text x="633" y="990">IBS</text>
<rect class="g" x="602" y="995" width="62" height="13"/><text x="633" y="1005">HCW</text>
<rect class="r" x="670" y="918" width="62" height="13"/><text x="701" y="928">CONDOR</text>
<rect class="r" x="670" y="933" width="62" height="13"/><text x="701" y="943" xml:space="preserve">LMST  V1</text>
<rect class="r" x="670" y="949" width="62" height="13"/><text x="701" y="959">LMST V2</text>
<rect class="g" x="670" y="964" width="62" height="13"/><text x="701" y="974">PHOENIX</text>
<rect class="r" x="670" y="980" width="62" height="13"/><text x="701" y="990">NCW</text>
<rect class="g" x="670" y="995" width="62" height="13"/><text x="701" y="1005">SMART-T</text>
<rect class="r" x="739" y="918" width="62" height="13"/><text x="770" y="928">SWAN</text>
<rect class="r" x="739" y="933" width="62" height="13"/><text class="f9" x="770" y="943">AN/MRC-142</text>
<rect class="l" x="739" y="949" width="62" height="13"/><text class="f9" x="770" y="959">AN/TRC-170</text>
<rect class="g" x="739" y="965" width="62" height="21"/><text x="770" y="974">TROJAN</text><text x="770" y="984">SPIRIT</text>
<rect class="g" x="739" y="989" width="62" height="21"/><text x="770" y="998">TROJAN</text><text x="770" y="1008">SPIRIT LITE</text>
</g></g>
<g id="sup-narrowband-external">
<rect class="bd" x="806" y="865" width="204" height="155"/>
<text class="t" x="914" y="878">Narrowband External</text>
<text class="t" x="914" y="893">Communications Domain</text>
<text class="s" x="910" y="901" textLength="65" lengthAdjust="spacingAndGlyphs">Wireless Transmission</text>
<g class="bx">
<rect class="g" x="810" y="927" width="62" height="13"/><text x="841" y="937">WIN-T INC 1</text>
<rect class="g" x="810" y="943" width="62" height="13"/><text x="841" y="953">WIN-T INC 2</text>
<rect class="g" x="810" y="959" width="62" height="13"/><text class="f9" x="841" y="969">BFT L-BAND</text>
<rect class="r" x="810" y="974" width="62" height="13"/><text x="841" y="984">TACLINK</text>
<rect class="r" x="810" y="990" width="62" height="13"/><text x="841" y="1000">VIASAT</text>
<rect class="g" x="878" y="927" width="62" height="13"/><text x="909" y="937">EPLRS</text>
<rect class="g" x="878" y="943" width="62" height="13"/><text x="909" y="953">EPLRS ENM</text>
<rect class="r" x="878" y="959" width="62" height="13"/><text x="909" y="969">IISR</text>
<rect class="r" x="878" y="974" width="62" height="13"/><text x="909" y="984">ELMR</text>
<rect class="g" x="944" y="927" width="62" height="13"/><text x="975" y="937">SINCGARS</text>
<rect class="p" x="944" y="943" width="62" height="13"/><text x="975" y="953">JTRS</text>
<rect class="r" x="944" y="959" width="62" height="13"/><text x="975" y="969">HF RADIO</text>
<rect class="r" x="944" y="974" width="62" height="13"/><text class="f9" x="975" y="984">UHF TACSAT</text>
</g></g>
<g id="sup-telephone-service">
<rect class="bd" x="1013" y="866" width="218" height="63"/>
<text class="t" x="1126" y="880">Telephone Service Domain</text>
<text class="s" x="1122" y="887" textLength="88" lengthAdjust="spacingAndGlyphs">Wired Transmission/ Switching</text>
<g class="bx">
<rect class="r" x="1021" y="896" width="62" height="13"/><text x="1052" y="906">TSM DEOS</text>
<rect class="r" x="1021" y="911" width="62" height="13"/><text x="1052" y="921">DTC</text>
<rect class="r" x="1088" y="896" width="62" height="13"/><text x="1119" y="906">TSM RSAM</text>
<rect class="r" x="1088" y="911" width="62" height="13"/><text x="1119" y="921">CSU/DSU</text>
<rect class="r" x="1155" y="911" width="62" height="13"/><text x="1186" y="921">TSM DITS</text>
</g></g>
<g id="sup-sensor-management">
<rect class="bd" x="1013" y="931" width="218" height="89"/>
<text class="t" x="1118" y="943">Sensor Management Domain</text>
<text class="s" x="1120" y="950" textLength="155" lengthAdjust="spacingAndGlyphs">Wireless Transmission/ Wired Transmission/ Switching</text>
<g class="bx">
<rect class="n" x="1017" y="974" width="68" height="13"/><text x="1051" y="984">CDLMS</text>
<rect class="r" x="1017" y="989" width="68" height="13"/><text x="1051" y="999">TDL CNTRL</text>
<rect class="r" x="1017" y="1004" width="68" height="13"/><text x="1051" y="1014">G/ATOR</text>
<rect class="n" x="1089" y="974" width="68" height="13"/><text x="1123" y="984">SGS/AC</text>
<rect class="g" x="1089" y="989" width="68" height="13"/><text x="1123" y="999">TPQ-46</text>
<rect class="r" x="1089" y="1004" width="68" height="13"/><text x="1123" y="1014">TPS-59</text>
<rect class="n" x="1161" y="974" width="68" height="13"/><text x="1195" y="984">CTN</text>
<rect class="p" x="1161" y="989" width="68" height="13"/><text x="1195" y="999">GBDL</text>
<rect class="r" x="1161" y="1004" width="68" height="13"/><text x="1195" y="1014">TPS-63</text>
</g></g>
<g id="sup-external-exchanges">
<g class="bx">
<rect class="r" x="622" y="1051" width="62" height="13"/><text x="653" y="1061">MARFOR</text>
<rect class="r" x="602" y="1066" width="62" height="13"/><text x="633" y="1076">SENIOR</text>
<rect class="r" x="632" y="1080" width="62" height="13"/><text x="663" y="1090">ADJACENT</text>
<rect class="r" x="666" y="1095" width="62" height="13"/><text class="f8" x="697" y="1105">SUBORDINANT</text>
<rect class="p" x="721" y="1051" width="62" height="13"/><text x="752" y="1061">JTF</text>
<rect class="p" x="740" y="1065" width="62" height="13"/><text x="771" y="1075">JFACC</text>
<rect class="p" x="762" y="1079" width="62" height="13"/><text x="793" y="1089">JFLCC</text>
<rect class="p" x="779" y="1092" width="62" height="13"/><text x="810" y="1102">JFMCC</text>
<rect class="p" x="803" y="1107" width="62" height="13"/><text x="834" y="1117">JSOTF</text>
<rect class="n" x="883" y="1051" width="62" height="13"/><text x="914" y="1061">NAVFOR</text>
<rect class="g" x="885" y="1068" width="62" height="13"/><text x="916" y="1078">ARFOR</text>
<rect class="l" x="885" y="1086" width="62" height="13"/><text x="916" y="1096">AFFOR</text>
<rect class="k" x="886" y="1104" width="62" height="13"/><text x="917" y="1114">COALITION</text>
<rect class="p" x="979" y="1051" width="62" height="13"/><text x="1010" y="1061">TDL A</text>
<rect class="p" x="979" y="1065" width="62" height="13"/><text x="1010" y="1075">TDL B</text>
<rect class="p" x="979" y="1079" width="62" height="13"/><text x="1010" y="1089">TDL C</text>
<rect class="p" x="979" y="1093" width="62" height="13"/><text x="1010" y="1103">TDL J</text>
<rect class="n" x="979" y="1107" width="62" height="13"/><text x="1010" y="1117">E-2C</text>
<rect class="l" x="1042" y="1051" width="62" height="13"/><text x="1073" y="1061">AWACS</text>
<rect class="r" x="1042" y="1065" width="62" height="13"/><text x="1073" y="1075">EA-6B</text>
<rect class="n" x="1042" y="1079" width="62" height="13"/><text x="1073" y="1089">GCCS-I3</text>
<rect class="l" x="1042" y="1093" width="62" height="13"/><text x="1073" y="1103">GCCS-I3</text>
<rect class="g" x="1042" y="1107" width="62" height="13"/><text x="1073" y="1117">ASAS-L</text>
<rect class="p" x="1105" y="1051" width="62" height="13"/><text x="1136" y="1061">NGA</text>
<rect class="r" x="1105" y="1065" width="62" height="13"/><text x="1136" y="1075">TPC</text>
<rect class="r" x="1105" y="1079" width="62" height="13"/><text x="1136" y="1089">TPCS-MPC</text>
<rect class="r" x="1105" y="1093" width="62" height="13"/><text x="1136" y="1103">MEWSS</text>
<rect class="r" x="1105" y="1107" width="62" height="13"/><text x="1136" y="1117">RREP</text>
<rect class="r" x="1170" y="1051" width="62" height="13"/><text x="1201" y="1061">CESAS</text>
<rect class="r" x="1170" y="1065" width="62" height="13"/><text x="1201" y="1075">TCAC</text>
<rect class="r" x="1170" y="1079" width="62" height="13"/><text x="1201" y="1089">CIHEP</text>
<rect class="r" x="1170" y="1093" width="62" height="13"/><text x="1201" y="1103">TVCS</text>
<rect class="r" x="1170" y="1107" width="62" height="13"/><text x="1201" y="1117">UAS/UGS</text>
</g></g>

<!-- ================= FORCE PROTECTION ================= -->
<g id="force-protection-functions">
<rect class="sh" x="1254" y="424" width="529" height="253" rx="12"/>
<rect class="fr" x="1251" y="421" width="529" height="253" rx="12"/>
<text class="h1" x="1516" y="445">FORCE PROTECTION FUNCTIONS</text>
<rect class="pl" x="1259" y="452" width="519" height="26" rx="12"/>
<text class="h2" x="1518" y="470">Joint Capability Area: PROTECTION</text>
<text class="s" x="1500" y="484" textLength="224" lengthAdjust="spacingAndGlyphs"><tspan class="u">Prevent:</tspan> Kinetic and Non-Kinetic Attacks  <tspan class="u">Mitigate</tspan>: Lethal and Nonlethal Effects</text>
</g>
<g id="fp-prevent-domain">
<rect class="bd" x="1261" y="491" width="255" height="60"/>
<text class="t" x="1388" y="505">Prevent (Kinetic/Non-Kinetic)</text>
<text class="t" x="1388" y="520">Domain</text>
<g class="bx">
<rect class="r" x="1271" y="523" width="62" height="13"/><text x="1302" y="533">JTCW</text>
<rect class="r" x="1271" y="537" width="62" height="13"/><text x="1302" y="547">IOW v2</text>
<rect class="g" x="1336" y="523" width="62" height="13"/><text x="1367" y="533">FBCB2/BFT</text>
<rect class="p" x="1336" y="537" width="62" height="13"/><text x="1367" y="547">JFRG-II</text>
<rect class="p" x="1401" y="523" width="62" height="13"/><text x="1432" y="533">GCCS-J</text>
<rect class="p" x="1401" y="537" width="62" height="13"/><text x="1432" y="547">JWARN/JEM</text>
</g></g>
<g id="fp-military-police-domain">
<rect class="bd" x="1261" y="554" width="255" height="58"/>
<text class="t" x="1390" y="573">Military Police Domain</text>
<g class="bx">
<rect class="r" x="1264" y="583" width="62" height="13"/><text x="1295" y="593">JTCW</text>
<rect class="r" x="1264" y="597" width="62" height="13"/><text x="1295" y="607">IOW v2</text>
<rect class="g" x="1330" y="583" width="62" height="13"/><text x="1361" y="593">FBCB2/BFT</text>
<rect class="p" x="1330" y="597" width="62" height="13"/><text x="1361" y="607">JFRG-II</text>
<rect class="p" x="1396" y="583" width="61" height="13"/><text x="1426.5" y="593">GCCS-J</text>
<rect class="p" x="1396" y="597" width="61" height="13"/><text x="1426.5" y="607">JWARN/JEM</text>
<rect class="r" x="1458" y="597" width="56" height="13"/><text x="1486" y="607">CBIRF</text>
</g></g>
<g id="fp-civil-affairs-domain">
<rect class="bd" x="1261" y="618" width="255" height="52"/>
<text class="t" x="1393" y="637">Civil Affairs Domain</text>
<g class="bx">
<rect class="r" x="1275" y="638" width="62" height="13"/><text x="1306" y="648">JTCW</text>
<rect class="r" x="1275" y="652" width="62" height="13"/><text x="1306" y="662">IOW v2</text>
<rect class="g" x="1340" y="638" width="62" height="13"/><text x="1371" y="648">FBCB2/BFT</text>
<rect class="p" x="1404" y="638" width="62" height="13"/><text x="1435" y="648">GCCS-J</text>
</g></g>
<g id="fp-mitigate-domain">
<rect class="bd" x="1525" y="491" width="247" height="56"/>
<text class="t" x="1648" y="505">Mitigate (Lethal/Non-Lethal)</text>
<text class="t" x="1648" y="519">Domain</text>
<g class="bx">
<rect class="r" x="1556" y="522" width="62" height="13"/><text x="1587" y="532">JTCW</text>
<rect class="r" x="1556" y="536" width="62" height="13"/><text x="1587" y="546">IOW v2</text>
<rect class="g" x="1621" y="522" width="62" height="13"/><text x="1652" y="532">FBCB2/BFT</text>
<rect class="p" x="1621" y="536" width="62" height="13"/><text x="1652" y="546">JFRG-II</text>
<rect class="p" x="1686" y="522" width="62" height="13"/><text x="1717" y="532">GCCS-J</text>
<rect class="p" x="1686" y="536" width="62" height="13"/><text x="1717" y="546">JWARN/JEM</text>
</g></g>
<g id="fp-common-services">
<rect class="yd" x="1536" y="550" width="219" height="124"/>
<text class="t" x="1648" y="565">Common Services Domain</text>
<g class="bx">
<rect class="p" x="1543" y="577" width="62" height="13"/><text x="1574" y="587">SIPRNET</text>
<rect class="p" x="1543" y="591" width="62" height="13"/><text x="1574" y="601">NIPRNET</text>
<rect class="k" x="1543" y="605" width="62" height="13"/><text x="1574" y="615">CENTRIX</text>
<rect class="p" x="1543" y="619" width="62" height="13"/><text x="1574" y="629">NGO - OGA</text>
<rect class="k" x="1543" y="633" width="62" height="13"/><text x="1574" y="643">RIPRNET</text>
<rect class="k" x="1543" y="647" width="62" height="13"/><text x="1574" y="657">CRONOS</text>
<rect class="r" x="1614" y="577" width="62" height="13"/><text x="1645" y="587">TAC RADIO</text>
<rect class="r" x="1614" y="591" width="62" height="13"/><text x="1645" y="601">DMS</text>
<rect class="g" x="1614" y="605" width="62" height="13"/><text x="1645" y="615">CPOF</text>
<rect class="r" x="1614" y="619" width="62" height="13"/><text x="1645" y="629">MAGTF COC</text>
<rect class="r" x="1614" y="633" width="62" height="13"/><text class="f9" x="1645" y="643">SHAREPOINT</text>
<rect class="r" x="1685" y="577" width="62" height="13"/><text x="1716" y="587">TAC VIDEO</text>
<rect class="r" x="1685" y="591" width="62" height="13"/><text x="1716" y="601">TELEPHONE</text>
<rect class="r" x="1685" y="605" width="62" height="13"/><text x="1716" y="615">CHAT</text>
<rect class="r" x="1685" y="619" width="62" height="13"/><text x="1716" y="629">COOP/B-U</text>
<rect class="r" x="1685" y="633" width="62" height="13"/><text x="1716" y="643">EXCHANGE</text>
<rect class="p" x="1685" y="648" width="62" height="22"/><text x="1716" y="657">Radiant</text><text x="1716" y="667">Mecury</text>
</g></g>

<!-- ================= LOGISTICS ================= -->
<g id="logistics-functions">
<rect class="sh" x="1255" y="686" width="528" height="436" rx="12"/>
<rect class="fr" x="1252" y="683" width="528" height="436" rx="12"/>
<text class="h1" x="1523" y="704">LOGISTICS FUNCTIONS</text>
<rect class="pl" x="1257" y="706" width="520" height="21" rx="10"/>
<text class="h2" x="1522" y="723">Joint Capability Area: LOGISTICS</text>
</g>
<g id="log-combat-service-support-oc">
<rect class="bd" x="1257" y="727" width="521" height="391"/>
<text class="t" x="1506" y="740">Combat Service Support Operations Center</text>
<text class="s" x="1516" y="749" textLength="473" lengthAdjust="spacingAndGlyphs"><tspan class="u">Deployment and Distribution</tspan>: Move the Force/ Sustain the Force/ Operate the JDDE.  <tspan class="u">Supply</tspan>: Manage Supplies and Equipment Inventory Management/ Manage Supplier</text>
<text class="s" x="1517" y="756" textLength="490" lengthAdjust="spacingAndGlyphs">Networks  <tspan class="u">Maintain</tspan>: Inspect/ Test/ Repair/ Rebuild/ Calibration  <tspan class="u">Logistics Services</tspan>: Food Service/ Water and Ice Services/ Base Camp Services/ Hygiene Services. <tspan class="u">Operational</tspan></text>
<text class="s" x="1516" y="762" textLength="431" lengthAdjust="spacingAndGlyphs"><tspan class="u">Contact Support</tspan>: Contract Support Integration/ Contractor Management. <tspan class="u">Engineering</tspan>: General Engineering/ Combat Engineering/ Geospatial Engineering</text>
</g>
<g id="log-supply">
<rect class="td" x="1258" y="765" width="260" height="109"/>
<text class="t" x="1391" y="776">Supply</text>
<text class="s" x="1390" y="785" textLength="204" lengthAdjust="spacingAndGlyphs">Manage Supplies/ Equipment Inventory/ Management Supplier Networks</text>
<g class="bx">
<rect class="r" x="1265" y="792" width="62" height="13"/><text x="1296" y="802">CLC2S</text>
<rect class="r" x="1265" y="806" width="62" height="13"/><text x="1296" y="816">W2W</text>
<rect class="r" x="1265" y="819" width="62" height="13"/><text x="1296" y="829">APS</text>
<rect class="p" x="1265" y="833" width="62" height="13"/><text x="1296" y="843">FAS</text>
<rect class="r" x="1328" y="792" width="62" height="13"/><text x="1359" y="802">JTCW</text>
<rect class="r" x="1328" y="806" width="62" height="13"/><text x="1359" y="816">GCSS-MC</text>
<rect class="r" x="1328" y="819" width="62" height="13"/><text x="1359" y="829">ATICTS</text>
<rect class="p" x="1328" y="833" width="62" height="13"/><text x="1359" y="843">FACTS</text>
<rect class="g" x="1392" y="792" width="60" height="13"/><text x="1422" y="802">FBCB2/BFT</text>
<rect class="r" x="1392" y="806" width="60" height="13"/><text x="1422" y="816">MERIT</text>
<rect class="r" x="1392" y="819" width="60" height="13"/><text x="1422" y="829">ATLASS</text>
<rect class="g" x="1454" y="792" width="59" height="13"/><text x="1483.5" y="802">BCS3</text>
<rect class="n" x="1454" y="806" width="59" height="13"/><text x="1483.5" y="816">NALCOMIS</text>
<rect class="r" x="1454" y="819" width="59" height="13"/><text x="1483.5" y="829">LOGAIS</text>
</g></g>
<g id="log-maintain">
<rect class="td" x="1258" y="877" width="260" height="86"/>
<text class="t" x="1383" y="891">Maintain</text>
<text class="s" x="1383" y="899" textLength="137" lengthAdjust="spacingAndGlyphs">Inspect/ Test/ Service/ Repair/ Rebuild/ Calibrate</text>
<text x="1437" y="958" style="font-size:14px;font-weight:normal;text-anchor:middle">JDLM</text>
<g class="bx">
<rect class="r" x="1265" y="902" width="62" height="13"/><text x="1296" y="912">CLC2S</text>
<rect class="r" x="1265" y="915" width="62" height="13"/><text x="1296" y="925">APS</text>
<rect class="r" x="1328" y="902" width="62" height="13"/><text x="1359" y="912">JTCW</text>
<rect class="p" x="1328" y="916" width="62" height="13"/><text x="1359" y="926">CMIS</text>
<rect class="g" x="1392" y="902" width="60" height="13"/><text x="1422" y="912">FBCB2/BFT</text>
<rect class="g" x="1454" y="902" width="59" height="13"/><text x="1483.5" y="912">BCS3</text>
</g></g>
<g id="log-engineering">
<rect class="td" x="1258" y="967" width="260" height="71"/>
<text class="t" x="1391" y="979">Engineering</text>
<text class="s" x="1391" y="988" textLength="187" lengthAdjust="spacingAndGlyphs">General Engineering/Combat Engineering/ Geospatial Engineering</text>
<g class="bx">
<rect class="r" x="1262" y="995" width="60" height="13"/><text x="1292" y="1005">CLC2S</text>
<rect class="r" x="1262" y="1008" width="60" height="13"/><text x="1292" y="1018">APS</text>
<rect class="r" x="1323" y="995" width="62" height="13"/><text x="1354" y="1005">JTCW</text>
<rect class="g" x="1386" y="995" width="60" height="13"/><text x="1416" y="1005">FBCB2/BFT</text>
<rect class="g" x="1448" y="995" width="62" height="13"/><text x="1479" y="1005">BCS3</text>
</g></g>
<g id="log-operational-contract-support">
<rect class="td" x="1258" y="1043" width="260" height="72"/>
<text class="t" x="1389" y="1057">Operational Contract Support</text>
<text class="s" x="1386" y="1064" textLength="152" lengthAdjust="spacingAndGlyphs">Contract Support Integration/ Contractor Management</text>
<g class="bx">
<rect class="r" x="1263" y="1067" width="62" height="13"/><text x="1294" y="1077">COMPTRAK</text>
</g></g>
<g id="log-deployment-distribution">
<rect class="td" x="1518" y="765" width="258" height="85"/>
<text class="t" x="1646" y="779">Deployment and Distribution</text>
<text class="s" x="1646" y="788" textLength="150" lengthAdjust="spacingAndGlyphs">Move the Force/ Sustain the Force/ Operate the JDDE</text>
<g class="bx">
<rect class="r" x="1523" y="793" width="59" height="13"/><text x="1552.5" y="803">CLC2S</text>
<rect class="r" x="1523" y="806" width="59" height="13"/><text x="1552.5" y="816">TCPT</text>
<rect class="p" x="1523" y="820" width="59" height="13"/><text x="1552.5" y="830">FACTS</text>
<rect class="r" x="1585" y="793" width="61" height="13"/><text x="1615.5" y="803">JTCW</text>
<rect class="p" x="1585" y="806" width="61" height="13"/><text x="1615.5" y="816">AALPS</text>
<rect class="l" x="1585" y="820" width="61" height="13"/><text x="1615.5" y="830">GATES</text>
<rect class="g" x="1648" y="793" width="61" height="13"/><text x="1678.5" y="803">FBCB2/BFT</text>
<rect class="r" x="1648" y="806" width="61" height="13"/><text x="1678.5" y="816">AIMS</text>
<rect class="p" x="1648" y="819" width="61" height="13"/><text x="1678.5" y="829">GFM</text>
<rect class="g" x="1711" y="793" width="61" height="13"/><text x="1741.5" y="803">BCS3</text>
<rect class="p" x="1711" y="806" width="61" height="13"/><text x="1741.5" y="816">CMOS</text>
</g></g>
<g id="log-logistic-services">
<rect class="td" x="1518" y="850" width="258" height="133"/>
<text class="t" x="1646" y="864">Logistic Services</text>
<text class="s" x="1646" y="871" textLength="222" lengthAdjust="spacingAndGlyphs">Food Services/ Water and Ice Services/ Base Camp Services/ Hygiene Services</text>
<g class="bx">
<rect class="r" x="1523" y="878" width="60" height="13"/><text x="1553" y="888">CLC2S</text>
<rect class="r" x="1523" y="891" width="60" height="13"/><text x="1553" y="901">APS</text>
<rect class="r" x="1586" y="878" width="60" height="13"/><text x="1616" y="888">JTCW</text>
<rect class="r" x="1586" y="891" width="60" height="13"/><text x="1616" y="901">CORRS</text>
<rect class="g" x="1649" y="878" width="60" height="13"/><text x="1679" y="888">FBCB2/BFT</text>
<rect class="g" x="1711" y="878" width="61" height="13"/><text x="1741.5" y="888">BCS3</text>
</g></g>
<g id="log-common-services">
<rect class="yd" x="1541" y="988" width="220" height="124"/>
<text class="t" x="1654" y="1003">Common Services Domain</text>
<g class="bx">
<rect class="p" x="1548" y="1015" width="62" height="13"/><text x="1579" y="1025">SIPRNET</text>
<rect class="p" x="1548" y="1029" width="62" height="13"/><text x="1579" y="1039">NIPRNET</text>
<rect class="k" x="1548" y="1043" width="62" height="13"/><text x="1579" y="1053">CENTRIX</text>
<rect class="p" x="1548" y="1057" width="62" height="13"/><text x="1579" y="1067">NGO - OGA</text>
<rect class="k" x="1548" y="1071" width="62" height="13"/><text x="1579" y="1081">RIPRNET</text>
<rect class="k" x="1548" y="1085" width="62" height="13"/><text x="1579" y="1095">CRONOS</text>
<rect class="r" x="1620" y="1015" width="62" height="13"/><text x="1651" y="1025">TAC RADIO</text>
<rect class="r" x="1620" y="1029" width="62" height="13"/><text x="1651" y="1039">DMS</text>
<rect class="g" x="1620" y="1043" width="62" height="13"/><text x="1651" y="1053">CPOF</text>
<rect class="r" x="1620" y="1057" width="62" height="13"/><text x="1651" y="1067">MAGTF COC</text>
<rect class="r" x="1620" y="1071" width="62" height="13"/><text class="f9" x="1651" y="1081">SHAREPOINT</text>
<rect class="r" x="1690" y="1015" width="62" height="13"/><text x="1721" y="1025">TAC VIDEO</text>
<rect class="r" x="1690" y="1029" width="62" height="13"/><text x="1721" y="1039">TELEPHONE</text>
<rect class="r" x="1690" y="1043" width="62" height="13"/><text x="1721" y="1053">CHAT</text>
<rect class="r" x="1690" y="1057" width="62" height="13"/><text x="1721" y="1067">COOP/B-U</text>
<rect class="r" x="1690" y="1071" width="62" height="13"/><text x="1721" y="1081">EXCHANGE</text>
<rect class="p" x="1690" y="1087" width="62" height="21"/><text x="1721" y="1096">Radiant</text><text x="1721" y="1106">Mecury</text>
</g></g>
<g id="connectors"></g>
</svg>
